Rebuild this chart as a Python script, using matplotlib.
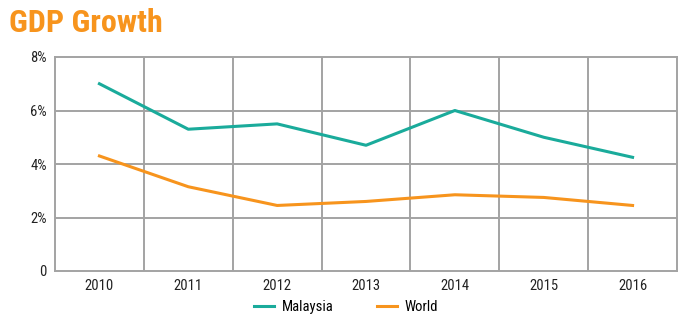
import matplotlib.pyplot as plt

years = ['2010', '2011', '2012', '2013', '2014', '2015', '2016']
malaysia = [7.0, 5.3, 5.5, 4.7, 6.0, 5.0, 4.25]
world = [4.3, 3.15, 2.45, 2.6, 2.85, 2.75, 2.45]

plt.rcParams['font.family'] = ['Roboto Condensed', 'DejaVu Sans']

teal = '#1aab9b'
orange = '#f7941d'
grid_c = '#a3a3a3'

fig = plt.figure(figsize=(6.9, 3.22), dpi=100)
ax = fig.add_axes([55 / 690, 1 - 271 / 322, 622 / 690, 214 / 322])

x = range(len(years))
ax.plot(x, malaysia, color=teal, lw=2.2, label='Malaysia')
ax.plot(x, world, color=orange, lw=2.2, label='World')

ax.set_xlim(-0.5, len(years) - 0.5)
ax.set_ylim(0, 8)
ax.set_yticks([0, 2, 4, 6, 8])
ax.set_yticklabels(['0', '2%', '4%', '6%', '8%'])
ax.set_xticks(list(x))
ax.set_xticklabels(years)
for v in [i + 0.5 for i in range(len(years) - 1)]:
    ax.axvline(v, color=grid_c, lw=1.4, zorder=0)
for v in [2, 4, 6]:
    ax.axhline(v, color=grid_c, lw=1.4, zorder=0)
for s in ax.spines.values():
    s.set_color(grid_c)
    s.set_linewidth(1.4)
ax.tick_params(length=0, labelsize=10.5, colors='#222222', pad=6)

fig.text(9 / 690, 1 - 23 / 322, 'GDP Growth', color=orange, fontsize=23,
         fontweight='bold', va='center', ha='left')

fig.legend(loc='center', bbox_to_anchor=(346 / 690, 1 - 307 / 322), ncol=2, frameon=False,
           fontsize=10.5, handlelength=1.4, handletextpad=0.5, columnspacing=3.0)

fig.savefig('out.png', dpi=100)
